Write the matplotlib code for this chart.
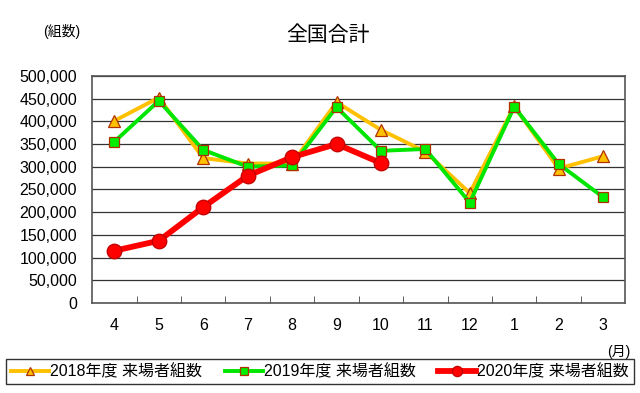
import matplotlib
matplotlib.use("Agg")
import matplotlib.pyplot as plt
from matplotlib.ticker import FuncFormatter

plt.rcParams['font.family'] = ['Liberation Sans', 'Noto Sans CJK JP', 'DejaVu Sans']

months = ["4", "5", "6", "7", "8", "9", "10", "11", "12", "1", "2", "3"]
fy2018 = [401000, 452000, 319000, 307000, 307000, 442000, 381000, 333000, 242000, 433000, 296000, 323000]
fy2019 = [355000, 445000, 337000, 300000, 303000, 431000, 335000, 339000, 221000, 432000, 306000, 233000]
fy2020 = [115000, 137000, 211000, 280000, 321000, 350000, 308000]

labels = ["2018年度 来場者組数", "2019年度 来場者組数", "2020年度 来場者組数"]

fig = plt.figure(figsize=(6.4, 3.93), dpi=100)
ax = fig.add_axes([0.144, 0.229, 0.833, 0.578])

x = range(len(months))
ax.plot(x, fy2018, color="#FFC000", lw=2.8, marker="^", ms=8,
        mfc="#FFC000", mec="#B03000", mew=0.9, label=labels[0], zorder=3)
ax.plot(x, fy2019, color="#00E600", lw=2.8, marker="s", ms=7.5,
        mfc="#00EE00", mec="#B03000", mew=0.9, label=labels[1], zorder=4)
ax.plot(range(len(fy2020)), fy2020, color="#FF0000", lw=4.2, marker="o", ms=10.5,
        mfc="#FF0000", mec="#C00000", mew=0.9, label=labels[2], zorder=5)

ax.set_xlim(-0.5, len(months) - 0.5)
ax.set_ylim(0, 500000)
ax.set_yticks(range(0, 500001, 50000))
ax.yaxis.set_major_formatter(FuncFormatter(lambda v, p: f"{int(v):,}"))
ax.set_xticks(list(x))
ax.set_xticklabels(months)
ax.set_xticks([i + 0.5 for i in range(len(months) - 1)], minor=True)
ax.tick_params(axis="x", which="major", length=0, pad=11, labelsize=11.5)
ax.tick_params(axis="x", which="minor", direction="in", length=5, color="#444444")
ax.tick_params(axis="y", length=0, pad=11, labelsize=11.5)
ax.grid(axis="y", color="#333333", lw=0.9)
ax.set_axisbelow(True)
for s in ax.spines.values():
    s.set_color("#555555")
    s.set_linewidth(1.2)

fig.text(0.512, 0.911, "全国合計", ha="center", va="center", fontsize=15)
fig.text(0.097, 0.919, "(組数)", ha="center", va="center", fontsize=10)
fig.text(0.967, 0.104, "(月)", ha="center", va="center", fontsize=10)

leg = fig.legend(loc="center", bbox_to_anchor=(0.5, 0.054), ncol=3, fontsize=11.5,
                 frameon=True, fancybox=False, edgecolor="black", handlelength=2.4,
                 markerscale=0.7, columnspacing=1.4, handletextpad=0.05,
                 borderpad=0.3, borderaxespad=0)
leg.get_frame().set_linewidth(1.0)

fig.savefig("out.png", dpi=100)
